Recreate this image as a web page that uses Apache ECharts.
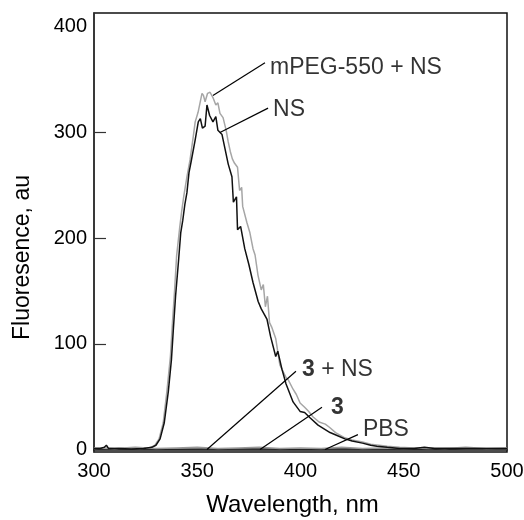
<!DOCTYPE html>
<html>
<head>
<meta charset="utf-8">
<script src="https://cdn.jsdelivr.net/npm/echarts@6/dist/echarts.min.js"></script>
<style>
html,body{margin:0;padding:0;background:#fff;}
#chart{width:524px;height:520px;}
</style>
</head>
<body>
<div id="chart"></div>
<script>
// ---- data (wavelength nm, fluorescence au) ----
const xTickLabels = [300, 350, 400, 450, 500];
const yTickLabels = [0, 100, 200, 300, 400];

const nsX = [300,303,305,306,307,312,318,324,328,330,332,334,336,337.5,338.5,339.5,341,342,343,344,345,346,347,349,350.5,351.5,352.5,353.8,354.7,356,357.6,359,360,362,363.5,365,366.8,367.5,369,369.5,371,373,375,377,379.5,381,383.8,385.5,388,389,391,393,394,396.4,399.8,402,404.6,408.5,411,414.3,418,421.5,425,430,434,437,442,448,455,460,465,470,480,490,500];
const nsY = [1,1,2,4,1,1,0.5,1,2,4,10,25,55,85,116,145,180,205,217,232,243,262,272,293,310,313,304,306,326,316,310,315,302,298,284,270,258,234,239,208,211,190,175,158,140,133,123,107,88,93,76,62,57,45,36,35,30,23,20,16,13,10,8,6,4,3,2,1,1,2,1,1,1,1,1];

const pegX = [300,304,310,316,322,327,329.5,331.5,333.5,335.3,337,338,339,340,341.5,342.5,343.5,345,346.5,348,349,350.4,351,352.3,353,353.8,355,356.2,357,357.6,359,360,361,362.5,364,365,366,367,368,369.5,370.5,371.5,372,374,375.5,377,378,379.4,381,382,383,384,385,386,388,390,391,393,394,396.4,398,399.8,402,404,406,409,412,414,417,421.5,425,430,434,438,442,448,455,462,470,480,490,500];
const pegY = [1,1.5,1,1.5,1,1.5,4,10,25,55,88,120,150,183,210,226,240,258,274,295,310,319,320,337,335,329,337,338,338,333,326,328,318,314,302,291,282,275,271,267,245,248,230,215,205,190,184,165,151,156,135,145,120,116,105,80,76,68,66,57,52,44,40,36,31,26,24,21,16,11,9,7,5,4,3,2,1.5,1,1.5,1,1,1];

const ns3X = [300,310,320,330,340,350,360,370,380,390,400,410,420,430,440,450,460,470,480,490,500];
const ns3Y = [1.5,1,2,1,1.5,2,1,1.5,2,1,1.5,1,2,1,1.5,1,1.5,1,2,1,1.5];

const c3X = [300,320,340,360,380,400,420,440,460,480,500];
const c3Y = [0.5,0.5,0.3,0.5,0.5,0.3,0.5,0.5,0.3,0.5,0.5];

const pbsX = [300,325,350,375,400,425,450,475,500];
const pbsY = [0,0,0,0,0,0,0,0,0];

// annotation leader lines: [startNm, startVal, endNm, endVal]
const annoNames = ['mPEG-550 + NS', 'NS', '3 + NS', '3', 'PBS'];
const annoLines = [
  [357.6, 335, 382.8, 366],
  [361, 300, 384.3, 323],
  [354.7, 0, 397.8, 74],
  [380.4, 0, 410.4, 40],
  [411.9, 0, 427.8, 14]
];
const annoText = ['mPEG-550 + NS', 'NS', '{b|3} + NS', '{b|3}', 'PBS'];

function pairs(xs, ys){ return xs.map((x,i)=>[x, ys[i]]); }

const chart = echarts.init(document.getElementById('chart'), null, {renderer:'canvas'});
const FONT = 'Liberation Sans, Arial, sans-serif';
// label placement tweaks (pixels) for each annotation
const annoOffsets = [[2,5],[2,2],[3,-2],[6,0],[2,-5]];

function lineSeries(name, xs, ys, color, z, anno){
  const s = {
    name, type:'line', data: pairs(xs, ys), showSymbol:false, symbol:'none',
    lineStyle:{color, width:1.5}, z, animation:false
  };
  if (anno !== undefined){
    const l = annoLines[anno];
    s.markLine = {
      silent:true, symbol:['none','none'], animation:false,
      lineStyle:{color:'#000', width:1.2, type:'solid'},
      label:{show:false},
      data:[[{coord:[l[0], l[1]]},{coord:[l[2], l[3]]}]]
    };
  }
  return s;
}

const annoPoints = annoLines.map((l,i)=>({
  value:[l[2], l[3]], txt: annoText[i],
  label:{offset: annoOffsets[i]}
}));

chart.setOption({
  animation:false,
  backgroundColor:'#fff',
  grid:{left:94, right:17, top:13, bottom:68, show:true, borderColor:'#111', borderWidth:1.5,
        backgroundColor:'transparent', outerBoundsMode:'none', containLabel:false},
  xAxis:{
    type:'value', min:300, max:500, interval:50,
    axisLine:{show:true, lineStyle:{color:'#111', width:1.5}},
    axisTick:{show:false},
    splitLine:{show:false},
    axisLabel:{fontSize:20, color:'#000', margin:9, fontFamily:FONT},
    name:'Wavelength, nm', nameLocation:'middle', nameGap:41,
    nameTextStyle:{fontSize:24, color:'#000', fontFamily:FONT, padding:[0,16,0,0]}
  },
  yAxis:{
    type:'value', min:-2.4, max:413,
    axisLine:{show:true, lineStyle:{color:'#333', width:1.5}},
    axisTick:{show:true, inside:true, length:12, lineStyle:{color:'#333', width:1.2}, customValues:[100,200,300]},
    splitLine:{show:false},
    axisLabel:{fontSize:20, color:'#000', margin:7, fontFamily:FONT, customValues:yTickLabels},
    name:'Fluoresence, au', nameLocation:'middle', nameGap:60,
    nameTextStyle:{fontSize:23, color:'#000', fontFamily:FONT, padding:[0,50,0,0]}
  },
  series:[
    lineSeries('PBS', pbsX, pbsY, '#555', 2, 4),
    lineSeries('3', c3X, c3Y, '#222', 2, 3),
    lineSeries('3 + NS', ns3X, ns3Y, '#999', 2, 2),
    lineSeries('mPEG-550 + NS', pegX, pegY, '#a6a6a6', 3, 0),
    lineSeries('NS', nsX, nsY, '#111', 4, 1),
    {
      type:'scatter', name:'labels', symbolSize:0, silent:true, z:10,
      itemStyle:{color:'#000'},
      data: annoPoints,
      label:{
        show:true, position:'right', distance:3, fontSize:23, color:'#000', fontFamily:FONT,
        formatter:(p)=>p.data.txt,
        rich:{b:{fontWeight:'bold', fontSize:23, color:'#000', fontFamily:FONT}}
      }
    }
  ]
});
</script>
</body>
</html>
